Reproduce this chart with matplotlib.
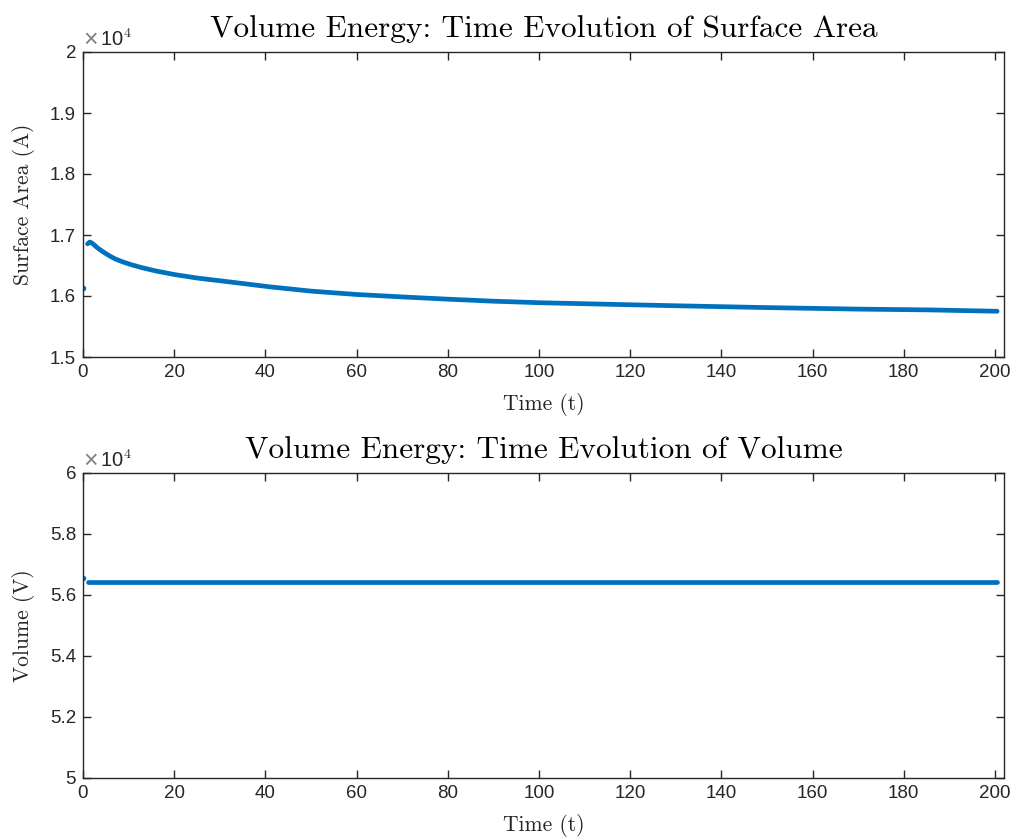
import matplotlib
matplotlib.use("Agg")
import matplotlib.pyplot as plt
from matplotlib.ticker import FuncFormatter

# Surface area over time (first sample stands apart from the relaxing curve)
area_t0 = 0.0
area_v0 = 16136.0
area_t = [1.0, 1.5, 2.0, 2.5, 3.0, 4.0, 5.0, 6.0, 7.0, 8.5, 10.5, 12.9, 16.0,
          20.2, 25.0, 30.0, 35.0, 41.0, 50.0, 60.0, 70.0, 80.0, 90.0, 100.0,
          115.0, 130.0, 150.0, 170.0, 185.6, 200.5]
area_v = [16855, 16885, 16865, 16835, 16800, 16745, 16695, 16650, 16610, 16565,
          16515, 16465, 16410, 16350, 16295, 16250, 16205, 16150, 16080, 16025,
          15985, 15948, 15915, 15890, 15865, 15840, 15810, 15785, 15772, 15750]

# Enclosed volume over time
vol_t0 = 0.0
vol_v0 = 56560.0
vol_t = [1.0, 200.5]
vol_v = [56410, 56410]

x_ticks = [0, 20, 40, 60, 80, 100, 120, 140, 160, 180, 200]
area_ticks = [15000, 16000, 17000, 18000, 19000, 20000]
vol_ticks = [50000, 52000, 54000, 56000, 58000, 60000]

BLUE = "#0072BD"
INK = "#262626"
SERIF = "cmr10"

plt.rcParams["mathtext.fontset"] = "cm"
plt.rcParams["font.family"] = ["Liberation Sans", "DejaVu Sans"]

fig = plt.figure(figsize=(10.16, 8.4), dpi=100)
ax1 = fig.add_axes([83 / 1016, 1 - 357 / 840, 921 / 1016, 305 / 840])
ax2 = fig.add_axes([83 / 1016, 1 - 778 / 840, 921 / 1016, 305 / 840])

fmt = FuncFormatter(lambda v, p: f"{v / 1e4:g}")


def style(ax, ylim, yticks, title, ylabel):
    ax.set_xlim(0, 202)
    ax.set_ylim(*ylim)
    ax.set_xticks(x_ticks)
    ax.set_yticks(yticks)
    ax.yaxis.set_major_formatter(fmt)
    ax.tick_params(direction="in", length=6, width=1.0, colors=INK,
                   labelsize=13.5, top=True, right=True, pad=5)
    for s in ax.spines.values():
        s.set_color(INK)
        s.set_linewidth(1.0)
    ax.set_title(title, family=SERIF, fontsize=22.5, color="black", pad=11)
    ax.set_xlabel("Time (t)", family=SERIF, fontsize=15.5, color=INK,
                  labelpad=9)
    ax.set_ylabel(ylabel, family=SERIF, fontsize=15.5, color=INK,
                  labelpad=11)
    # scale factor note above the y axis
    ax.text(0.0, 1.002, "\u00d7", transform=ax.transAxes,
            fontsize=18, color="#808080", ha="left", va="bottom")
    ax.text(0.0185, 1.006, r"10$^{4}$", transform=ax.transAxes,
            fontsize=14.5, color=INK, ha="left", va="bottom")


ax1.plot([area_t0], [area_v0], ".", color=BLUE, ms=6)
ax1.plot(area_t, area_v, "-", color=BLUE, lw=3.4,
         solid_capstyle="round", solid_joinstyle="round")
style(ax1, (15000, 20000), area_ticks,
      "Volume Energy: Time Evolution of Surface Area", "Surface Area (A)")

ax2.plot([vol_t0], [vol_v0], ".", color=BLUE, ms=6)
ax2.plot(vol_t, vol_v, "-", color=BLUE, lw=3.4, solid_capstyle="round")
style(ax2, (50000, 60000), vol_ticks,
      "Volume Energy: Time Evolution of Volume", "Volume (V)")

fig.savefig("out.png", dpi=100)
